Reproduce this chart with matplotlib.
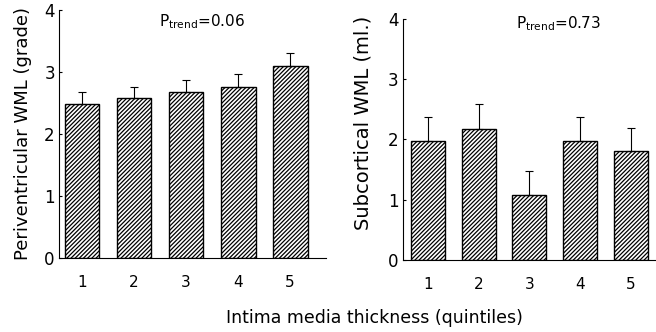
import matplotlib
matplotlib.use("Agg")
import matplotlib.pyplot as plt

quintiles = [1, 2, 3, 4, 5]
tick_labels = ["1", "2", "3", "4", "5"]

# periventricular WML (grade), mean and upper SE
peri_mean = [2.48, 2.58, 2.68, 2.76, 3.10]
peri_err = [0.20, 0.18, 0.19, 0.21, 0.21]

# subcortical WML (ml), mean and upper SE
sub_mean = [1.97, 2.18, 1.08, 1.97, 1.81]
sub_err = [0.40, 0.41, 0.40, 0.40, 0.38]

plt.rcParams['font.family'] = ['DejaVu Sans']
plt.rcParams['hatch.linewidth'] = 0.9

fig = plt.figure(figsize=(6.56, 3.32), dpi=100)
ax1 = fig.add_axes([0.09, 0.223, 0.407, 0.747])
ax2 = fig.add_axes([0.614, 0.217, 0.386, 0.726])


def draw(ax, means, errs, ylabel, ptxt, xlim, ptx, pty, ylsize, ylpos):
    ax.bar(quintiles, means, width=0.67, color="white", edgecolor="black",
           hatch="////////", linewidth=1.0,
           yerr=[[0] * len(errs), errs], capsize=3,
           error_kw=dict(ecolor="black", elinewidth=0.8, capthick=0.8))
    ax.set_xlim(*xlim)
    ax.set_ylim(0, 4)
    ax.set_yticks([0, 1, 2, 3, 4])
    ax.set_xticks(quintiles)
    ax.set_xticklabels(tick_labels)
    ax.spines['top'].set_visible(False)
    ax.spines['right'].set_visible(False)
    ax.tick_params(axis='y', direction='in', length=2, labelsize=12, pad=3)
    ax.tick_params(axis='x', length=0, labelsize=11, pad=12)
    ax.set_ylabel(ylabel, fontsize=ylsize)
    ax.yaxis.set_label_coords(*ylpos)
    fig.text(ptx, pty, ptxt, fontsize=11, ha="center", va="center")


draw(ax1, peri_mean, peri_err, "Periventricular WML (grade)",
     r"P$_{\mathregular{trend}}$=0.06", (0.56, 5.69), 202 / 656, 1 - 22 / 332,
     13, (-0.101, 0.5))
draw(ax2, sub_mean, sub_err, "Subcortical WML (ml.)",
     r"P$_{\mathregular{trend}}$=0.73", (0.5, 5.5), 558 / 656, 1 - 24 / 332,
     14, (-0.118, 0.568))

fig.text(374 / 656, 1 - 318 / 332, "Intima media thickness (quintiles)",
         ha="center", va="center", fontsize=12.5)

fig.savefig("out.png", dpi=100)
